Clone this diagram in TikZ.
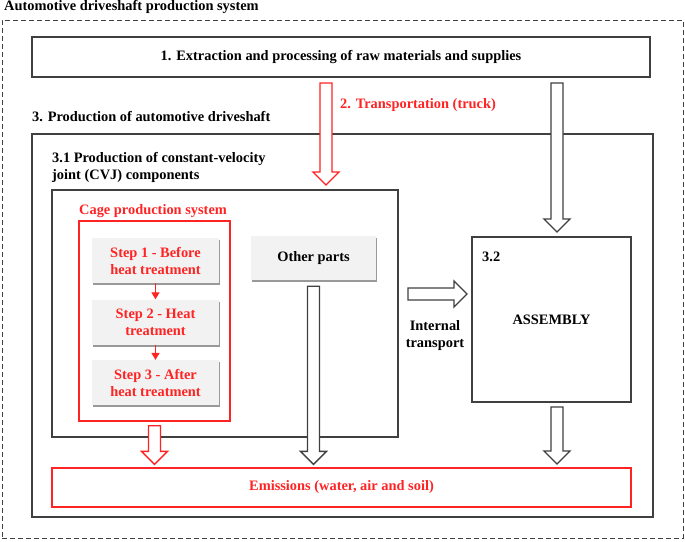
\documentclass[tikz,border=0pt]{standalone}
\usepackage{fontspec}
\setmainfont{Liberation Serif}[BoldFont={Liberation Serif Bold}]
\usetikzlibrary{arrows.meta,calc,shadows}
\definecolor{cagered}{RGB}{255,35,35}
\definecolor{linegray}{RGB}{64,64,64}
\definecolor{stepfill}{RGB}{242,242,242}
\newcommand\fatarrow[3][linegray]{%
  \coordinate (fa-h) at ($(#3)!13pt!(#2)$);
  \draw[#1, line width=1.3pt, fill=white, line join=miter]
    ($(#2)!6pt!90:(#3)$) -- ($(fa-h)!6pt!90:(#3)$) -- ($(fa-h)!13pt!90:(#3)$)
    -- (#3) -- ($(fa-h)!13pt!-90:(#3)$) -- ($(fa-h)!6pt!-90:(#3)$)
    -- ($(#2)!6pt!-90:(#3)$) -- cycle;}

\begin{document}
\begin{tikzpicture}[x=1pt,y=-1pt,
    txt/.style={font=\bfseries\fontsize{14.4}{17}\selectfont},
    label/.style={txt, inner sep=0pt, anchor=west},
    frame/.style={draw=linegray, line width=1.3pt, inner sep=0pt},
    redframe/.style={draw=cagered, line width=1.3pt, inner sep=0pt},
    stepbox/.style={txt, fill=stepfill, text=cagered, align=center, inner sep=0pt,
        minimum width=127pt, minimum height=45pt,
        drop shadow={shadow xshift=1pt, shadow yshift=-2pt, fill=black, opacity=0.4}}]
    \useasboundingbox (0,0) rectangle (685,541);

    \node[draw=linegray, line width=0.9pt, dash pattern=on 5pt off 3pt, inner sep=0pt,
        minimum width=681pt, minimum height=518pt] (sys) at (342.5,279) {};
    \node[label] (sys-l) at (4,7) {Automotive driveshaft production system};

    \node[frame, txt, minimum width=618pt, minimum height=40pt] (ext) at (341,57)
        {1. Extraction and processing of raw materials and supplies};

    \node[frame, minimum width=621pt, minimum height=383pt] (prod) at (342.5,325.5) {};
    \node[label] (prod-l) at (32,117) {3. Production of automotive driveshaft};

    \node[frame, minimum width=346pt, minimum height=247pt] (cvj) at (225,313.5) {};
    \node[label, align=left] (cvj-l) at (52,167)
        {3.1 Production of constant-velocity\\joint (CVJ) components};

    \node[redframe, minimum width=151pt, minimum height=200pt] (cage) at (154.5,321) {};
    \node[label, text=cagered] (cage-l) at (79,211) {Cage production system};

    \node[stepbox] (step1) at (155.5,260.5) {Step 1 - Before\\heat treatment};
    \node[stepbox] (step2) at (155.5,322) {Step 2 - Heat\\treatment};
    \node[stepbox] (step3) at (155.5,382.5) {Step 3 - After\\heat treatment};
    \node[stepbox, text=black, minimum width=125pt, minimum height=44pt] (other) at (313.5,258) {Other parts};

    \draw[cagered, line width=1.3pt, -{Triangle[width=8pt,length=7pt]}] (step1) -- (step2);
    \draw[cagered, line width=1.3pt, -{Triangle[width=8pt,length=7pt]}] (step2) -- (step3);

    \node[frame, minimum width=159pt, minimum height=165pt] (asm) at (551.5,319.5) {};
    \node[txt] (asm-t) at (asm.center) {ASSEMBLY};
    \node[label] (asm-l) at (482,257) {3.2};

    \node[redframe, txt, text=cagered, minimum width=579pt, minimum height=39pt] (emis) at (341.5,487.5)
        {Emissions (water, air and soil)};

    \node[label, text=cagered] (truck-l) at (340,105) {2. Transportation (truck)};
    \node[txt, align=center, inner sep=0pt] (int-l) at (435,336) {Internal\\transport};

    \coordinate (truck-s) at (326,83);
    \coordinate (truck-e) at (326,185);
    \coordinate (supply-s) at (557,83);
    \coordinate (supply-e) at (557,232);
    \coordinate (int-s) at (408,294);
    \coordinate (int-e) at (467,294);
    \coordinate (cage-s) at ($(cage.south)+(0,4)$);
    \coordinate (cage-e) at ($(emis.north -| cage.south)+(0,-3)$);
    \coordinate (other-s) at ($(other.south)+(0,6)$);
    \coordinate (other-e) at ($(emis.north -| other.south)+(0,-3)$);
    \coordinate (asm-s) at (557,407);
    \coordinate (asm-e) at (557,464);

    \fatarrow[cagered]{truck-s}{truck-e}
    \fatarrow{supply-s}{supply-e}
    \fatarrow{int-s}{int-e}
    \fatarrow[cagered]{cage-s}{cage-e}
    \fatarrow{other-s}{other-e}
    \fatarrow{asm-s}{asm-e}
\end{tikzpicture}
\end{document}
